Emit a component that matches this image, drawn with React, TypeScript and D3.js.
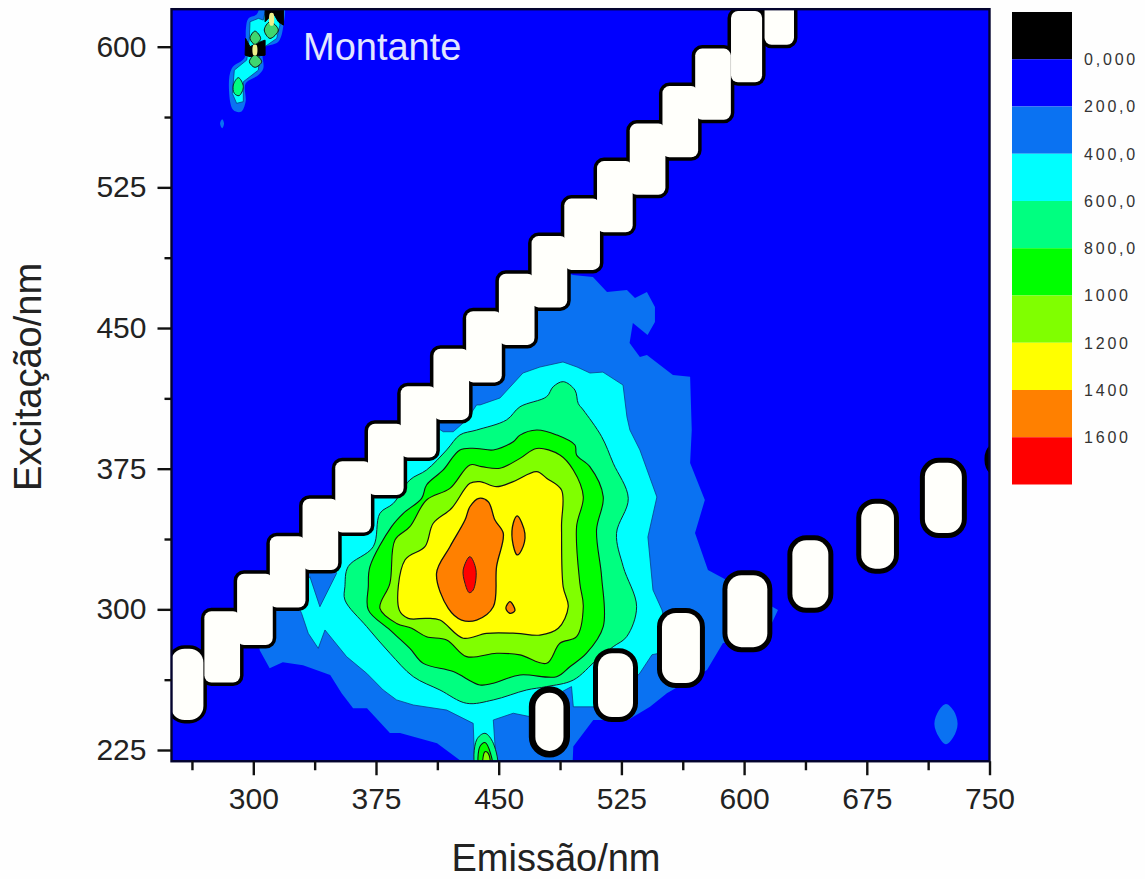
import React, { useEffect, useRef } from "react";
import * as d3 from "d3";

type Pt = [number, number];

// contour rings, [emission nm, excitation nm]
const band200: Pt[][] = [
  [[490,480],[490,463],[470,463],[470,443],[450,443],[450,423],[431,423],[431,402],[410,402],[410,383],[391.5,383],[391.5,362],[371,362],[371,343],[349,343],[349,323],[330,323],[330,303],[311,303],[311,282],[303,282],[304,278],[310,268.6],[318,271.8],[330.4,270.2],[347,265],[354,255.3],[361,247.3],[369.5,247.3],[383.5,234],[389.7,234],[412.3,228.6],[426.3,219.6],[431,214],[495,214],[495.6,226.8],[507.8,241],[529,241],[542.5,248],[552.8,255.3],[577.3,267.6],[587,281.9],[615.8,290.5],[620.7,299.6],[587,316.7],[577.9,321],[570,340.7],[576,358.3],[567,378],[568,395.6],[567,424],[556.5,425],[540.6,435.6],[536.3,434.6],[530,442],[532,452.7],[541,446.3],[545.5,453.2],[545.5,461.2],[540.6,469.2],[533.3,466],[528.4,470.3],[516.2,469.2],[507.6,477.2],[495.4,478.3]],
];
const band200Spots: Pt[][] = [
  [[302,617.2],[297,615.1],[295.5,609.8],[295.5,599.1],[294.5,593.8],[286.8,588.4],[285.2,576],[287.8,566.2],[292.5,565.3],[295.3,570.7],[295.3,580.4],[303.1,584.9],[306.1,588.4],[306.1,599.1],[315.3,602.7],[318.4,611.5],[318.4,622],[305.1,622]],
  [[281,561.3],[282.1,559],[281,556.5],[279.7,559]],
  [[723.4,249.5],[728,246],[730.5,239],[728,232],[723.4,228],[719,232],[716.3,239],[719,246]],
];
const band400: Pt[][] = [
  [[438.6,409],[450.8,412.7],[464.8,426],[475.2,429.2],[489.3,431.9],[497.9,429.2],[505.8,426],[513.7,426.5],[526,419.6],[528.4,402.6],[530.2,395.6],[536.3,385],[546.7,359.9],[541.2,338.6],[544.3,310.3],[549.8,299.7],[556,278],[543.7,275.8],[536.3,266],[527,257],[515,248],[507.8,248],[495.6,248],[494.5,258.8],[480,252],[469,242.8],[458.9,244.6],[446.7,241],[448.7,215],[435.5,215],[434.4,239.2],[418.2,246.3],[397.8,249],[387.6,251.7],[379.4,257],[369.3,265.9],[357,274.8],[343.8,289],[339.7,279.2],[333.6,287.2],[329.5,297.9],[325,306],[334.6,317.4],[340.7,301.4],[350.9,319.2],[349,323],[349,343],[371,343],[371,362],[391.5,362],[391.5,383],[410,383],[412,397],[416.1,394.7],[422.2,394.7],[430.4,401],[436.5,409]],
  [[303.1,615.1],[298,613.3],[297.6,604.4],[296,592.9],[288.4,587.5],[287.2,575.1],[289.8,569.8],[293.9,570.7],[293.9,581.3],[303.1,587.5],[304.1,598.2],[314.3,604.4],[316.3,611.5],[315.3,618.6],[307.2,618.6],[306.1,614.2]],
];
const band600: Pt[][] = [
  [[489.5,421.4],[496.6,416.9],[498.6,409.8],[501.7,406.3],[512.9,392.1],[520,377.9],[529.2,359.2],[522,340.5],[526.1,322.8],[534.3,301.4],[528.2,285.4],[520,280.1],[509.8,273],[495.6,262.3],[479.3,258.8],[467,257],[446.7,251.7],[430.4,249.9],[414.1,257],[397.8,264.1],[383.5,276.6],[369.3,290.8],[356,305],[356,312.1],[358,322.8],[373.3,333.4],[377.4,351.2],[385.6,356.5],[395.7,369],[405.9,374.3],[418.2,385],[426.3,393],[436.5,395.6],[454.8,401],[463,408],[479.3,413.4],[483.3,418.7]],
  [[436.5,215],[436.5,230.4],[441.6,233.9],[446.7,228.6],[448.7,215]],
  [[290.9,583.5],[287.8,579.6],[288.4,575.1],[291.3,573.9],[293.9,578.7]],
];
const band800: Pt[][] = [
  [[473.2,395.6],[485.4,393],[496.6,387.6],[497.6,382.3],[505.7,376.1],[513.9,360.1],[509.8,342.3],[512.9,317.4],[513.9,290.8],[503.7,276.6],[493.5,269.4],[485.4,264.1],[463,265],[446.7,260.6],[438.5,259.7],[422.2,266.8],[403.9,271.2],[395.7,279.2],[383.5,289],[370.3,299.7],[370.3,312.1],[371.3,322.8],[384.5,344.1],[391.7,351.2],[402.9,359.2],[405.9,366.3],[416.1,374.3],[426.3,385],[436.5,385.8],[446.7,385],[458.9,389.4],[463,392.9]],
  [[438.5,215],[438.5,226.8],[441.6,229],[445,223.2],[446,215]],
];
const band1000: Pt[][] = [
  [[473.2,385.8],[487.4,382.3],[495.6,374.3],[501.7,360.1],[497.6,344.1],[499.6,313.9],[501.7,301.4],[497.6,285.4],[487.4,281.9],[479.3,271.2],[463,275.7],[448.7,276.6],[430.4,274.8],[418.2,283.7],[405.9,285.4],[396.8,289.9],[387.6,292.5],[377.4,300.5],[383.5,313.9],[386.6,337],[395.7,344.1],[405.9,358.3],[420.2,364.5],[432.4,377],[439.5,376.1],[450.7,375.2],[463,380.5]],
  [[440.6,215],[441.6,224.1],[443.6,223.2],[444.6,215]],
];
const band1200: Pt[][] = [
  [[473.2,373.4],[479.3,369.9],[488.4,363.6],[488.4,344.1],[489.4,312.1],[492.5,301.4],[486.4,289.9],[475.2,286.3],[460.9,287.2],[442.6,287.2],[428.3,284.6],[414.1,294.3],[405.9,295.2],[394.7,295.2],[389.2,299.7],[392.7,326.3],[404.9,333.4],[410,345.9],[421.2,353.9],[432.4,367.2],[438.5,368.1],[448.7,365.4],[458.9,368.1]],
];
const band1400: Pt[][] = [
  [[437.9,359.2],[443.6,357.4],[447.7,347.6],[452.8,340.5],[448.7,322.8],[446.7,301.4],[436.5,294.3],[427.3,294.3],[419.2,300.5],[412,319.2],[420.2,333.4],[429.4,347.6],[432.4,354.7]],
  [[461.3,349.8],[466,340.5],[464,331.6],[461.3,329],[458.3,337],[458.9,345.9]],
  [[456.9,304.1],[459.9,299.3],[456.9,297.9],[454.4,300.6]],
];
const band1600: Pt[][] = [
  [[432.4,328.1],[436.1,321],[434.4,310.3],[432,308.9],[429.4,313.9],[428.3,321]],
];
// over-range patches at the top left corner
const saturated: Pt[][] = [
  [[295.3,604.4],[298,600],[304.5,602.7],[307.2,603.5],[307.2,595.5],[298,594.7],[295,595.5]],
  [[307.2,622],[318.4,622],[318.4,611.5],[315.3,613.3],[312.9,616.9],[309.2,615.1],[307.2,613.3]],
];
const saturatedGreen: Pt[][] = [
  [[301,608.3],[298,604.4],[301,601.2],[304.5,604.4]],
  [[301,595.6],[297.6,592],[301,589],[305.1,592]],
  [[310.2,613.3],[306.7,608.9],[310.2,604.4],[315.3,608.9]],
];
const saturatedYellow: Pt[][] = [
  [[300,600.9],[302,600.9],[302,595.6],[300,595.6]],
  [[310.2,617.8],[312.2,617.8],[312.2,611.5],[310.2,611.5]],
];

// blanked scatter: first order (em = ex) and second order (em = 2 ex)
const firstOrderEx = [260, 280, 300, 320, 340, 360, 380, 400, 420, 440, 460, 480, 500, 520, 540, 560, 580, 600, 620];
const firstOrderEm = [259.5, 281, 301, 321, 341, 361, 381, 401, 421, 441, 461, 481, 501, 521, 541, 561, 581, 601.5, 621.5];
const firstOrderHalfEm = [10, 10.9, 10.9, 10.9, 10.9, 10.9, 10.9, 10.9, 10.9, 10.9, 10.9, 10.9, 10.9, 10.9, 10.9, 10.9, 10.9, 9.5, 9];
const secondOrderEx = [240, 259.6, 279.4, 299, 318.8, 339, 359.4, 380];
const secondOrderEm = [481, 521.4, 561.4, 602, 640.5, 681.6, 721.8, 762];
const secondOrderHalfEm = [8.6, 10.7, 11.6, 12.2, 11, 10, 11.3, 12];
const secondOrderHalfEx = [15.5, 17, 18.7, 19.2, 18, 17.3, 18.7, 8];

const xMajor = [300, 375, 450, 525, 600, 675, 750];
const xMinor = [262.5, 337.5, 412.5, 487.5, 562.5, 637.5, 712.5];
const yMajor = [225, 300, 375, 450, 525, 600];
const yMinor = [262.5, 337.5, 412.5, 487.5, 562.5];

const legendColors = ["#000000", "#0000ff", "#0a72f2", "#00ffff", "#00ff80", "#00ff00", "#80ff00", "#ffff00", "#ff8000", "#ff0000"];
const legendLabels = ["0,000", "200,0", "400,0", "600,0", "800,0", "1000", "1200", "1400", "1600"];

const FONT = "'Liberation Sans', Arial, sans-serif";

export default function App() {
  const svgRef = useRef<SVGSVGElement>(null);

  useEffect(() => {
    const width = 1145;
    const height = 879;
    const svg = d3.select(svgRef.current).attr("width", width).attr("height", height);
    svg.selectAll("*").remove();

    svg.append("rect").attr("width", width).attr("height", height).attr("fill", "#fefefe");

    const x = d3.scaleLinear().domain([250, 750]).range([171.5, 989.5]);
    const y = d3.scaleLinear().domain([225, 600]).range([750, 46.7]);
    const top = y(620);
    const bottom = y(219);

    svg.append("defs").append("clipPath").attr("id", "plot")
      .append("rect").attr("x", x(250)).attr("y", top).attr("width", x(750) - x(250)).attr("height", bottom - top);

    const g = svg.append("g").attr("clip-path", "url(#plot)");
    g.append("rect").attr("x", x(250)).attr("y", top).attr("width", x(750) - x(250)).attr("height", bottom - top)
      .attr("fill", legendColors[1]);

    const straight = d3.line<Pt>().x(d => x(d[0])).y(d => y(d[1])).curve(d3.curveLinearClosed);
    const smooth = d3.line<Pt>().x(d => x(d[0])).y(d => y(d[1])).curve(d3.curveCatmullRomClosed.alpha(0.5));

    const drawBand = (rings: Pt[][], fill: string, stroke: string, sw: number, gen: any) => {
      g.append("g").selectAll("path").data(rings).join("path")
        .attr("d", d => gen(d))
        .attr("fill", fill)
        .attr("stroke", stroke)
        .attr("stroke-width", sw)
        .attr("stroke-linejoin", "round");
    };

    // --- Contour bands, low to high ---
    drawBand(band200, legendColors[2], "none", 0, straight);
    drawBand(band200Spots, legendColors[2], "none", 0, smooth);
    drawBand(band400, legendColors[3], "#0b3f8c", 0.8, straight);
    drawBand(band600, legendColors[4], "#123", 1, smooth);
    drawBand(band800, legendColors[5], "#111", 1.1, smooth);
    drawBand(band1000, legendColors[6], "#111", 1.1, smooth);
    drawBand(band1200, legendColors[7], "#111", 1.2, smooth);
    drawBand(band1400, legendColors[8], "#111", 1.3, smooth);
    drawBand(band1600, legendColors[9], "#222", 1, smooth);
    drawBand(saturated, legendColors[0], "#000", 1, straight);
    drawBand(saturatedGreen, "#3fd66f", "#111", 1, smooth);
    drawBand(saturatedYellow, "#eef08a", "none", 0, smooth);

    // --- Scatter blanks: black rim first, white on top so the stairs merge ---
    const first = firstOrderEx.map((ex, i) => ({ ex, em: firstOrderEm[i], hw: firstOrderHalfEm[i], hh: 19, rx: i === 0 ? 14 : 7, rim: 7 }));
    const second = secondOrderEx.map((ex, i) => ({ ex, em: secondOrderEm[i], hw: secondOrderHalfEm[i], hh: secondOrderHalfEx[i], rx: 14, rim: i === 0 ? 13 : 10 }));
    const blobs = [...first, ...second];
    const blobRect = (sel: any) => sel
      .attr("x", (d: any) => x(d.em - d.hw))
      .attr("y", (d: any) => y(d.ex + d.hh))
      .attr("width", (d: any) => x(d.em + d.hw) - x(d.em - d.hw))
      .attr("height", (d: any) => y(d.ex - d.hh) - y(d.ex + d.hh))
      .attr("rx", (d: any) => d.rx);

    g.append("g").selectAll("rect").data(blobs).join("rect").call(blobRect)
      .attr("fill", "#000").attr("stroke", "#000").attr("stroke-width", (d: any) => d.rim);
    g.append("g").selectAll("rect").data(blobs).join("rect").call(blobRect)
      .attr("fill", "#fffffb");

    // --- Frame ---
    svg.append("rect").attr("x", x(250)).attr("y", top).attr("width", x(750) - x(250)).attr("height", bottom - top)
      .attr("fill", "none").attr("stroke", "#03032e").attr("stroke-width", 2.4);

    // --- Axes ---
    const styleAxis = (a: any) => {
      a.select(".domain").remove();
      a.selectAll("line").attr("stroke", "#111").attr("stroke-width", 2.4);
      a.selectAll("text").attr("font-family", FONT).attr("font-size", 30).attr("fill", "#222");
    };
    svg.append("g").attr("transform", `translate(0,${bottom})`)
      .call(d3.axisBottom(x).tickValues(xMajor).tickSize(14).tickPadding(12).tickFormat(d3.format("d") as any))
      .call(styleAxis);
    svg.append("g").attr("transform", `translate(0,${bottom})`)
      .call(d3.axisBottom(x).tickValues(xMinor).tickSize(9).tickFormat(() => ""))
      .call(styleAxis);
    svg.append("g").attr("transform", `translate(${x(250)},0)`)
      .call(d3.axisLeft(y).tickValues(yMajor).tickSize(14).tickPadding(11).tickFormat(d3.format("d") as any))
      .call(styleAxis);
    svg.append("g").attr("transform", `translate(${x(250)},0)`)
      .call(d3.axisLeft(y).tickValues(yMinor).tickSize(7).tickFormat(() => ""))
      .call(styleAxis);

    // --- Titles ---
    svg.append("text").attr("x", 556).attr("y", 870.5).attr("text-anchor", "middle")
      .attr("font-family", FONT).attr("font-size", 38).attr("fill", "#222").text("Emissão/nm");
    svg.append("text").attr("transform", "translate(41,377) rotate(-90)").attr("text-anchor", "middle")
      .attr("font-family", FONT).attr("font-size", 38).attr("fill", "#222").text("Excitação/nm");
    svg.append("text").attr("x", 303).attr("y", 60)
      .attr("font-family", FONT).attr("font-size", 38).attr("fill", "#e2e6ff").text("Montante");

    // --- Legend ---
    const legendY = d3.scaleLinear().domain([0, legendColors.length]).range([12, 484.5]);
    const legend = svg.append("g");
    legend.selectAll("rect").data(legendColors).join("rect")
      .attr("x", 1012).attr("width", 60)
      .attr("y", (_, i) => legendY(i))
      .attr("height", (_, i) => legendY(i + 1) - legendY(i))
      .attr("fill", d => d);
    legend.selectAll("text").data(legendLabels).join("text")
      .attr("x", 1084)
      .attr("y", (_, i) => legendY(i + 1))
      .attr("dy", "0.36em")
      .attr("font-family", FONT)
      .attr("font-size", 16)
      .attr("letter-spacing", 2.8)
      .attr("fill", "#333")
      .text(d => d);
  }, []);

  return <svg ref={svgRef} style={{ position: "absolute", left: 0, top: 0, display: "block" }} />;
}
